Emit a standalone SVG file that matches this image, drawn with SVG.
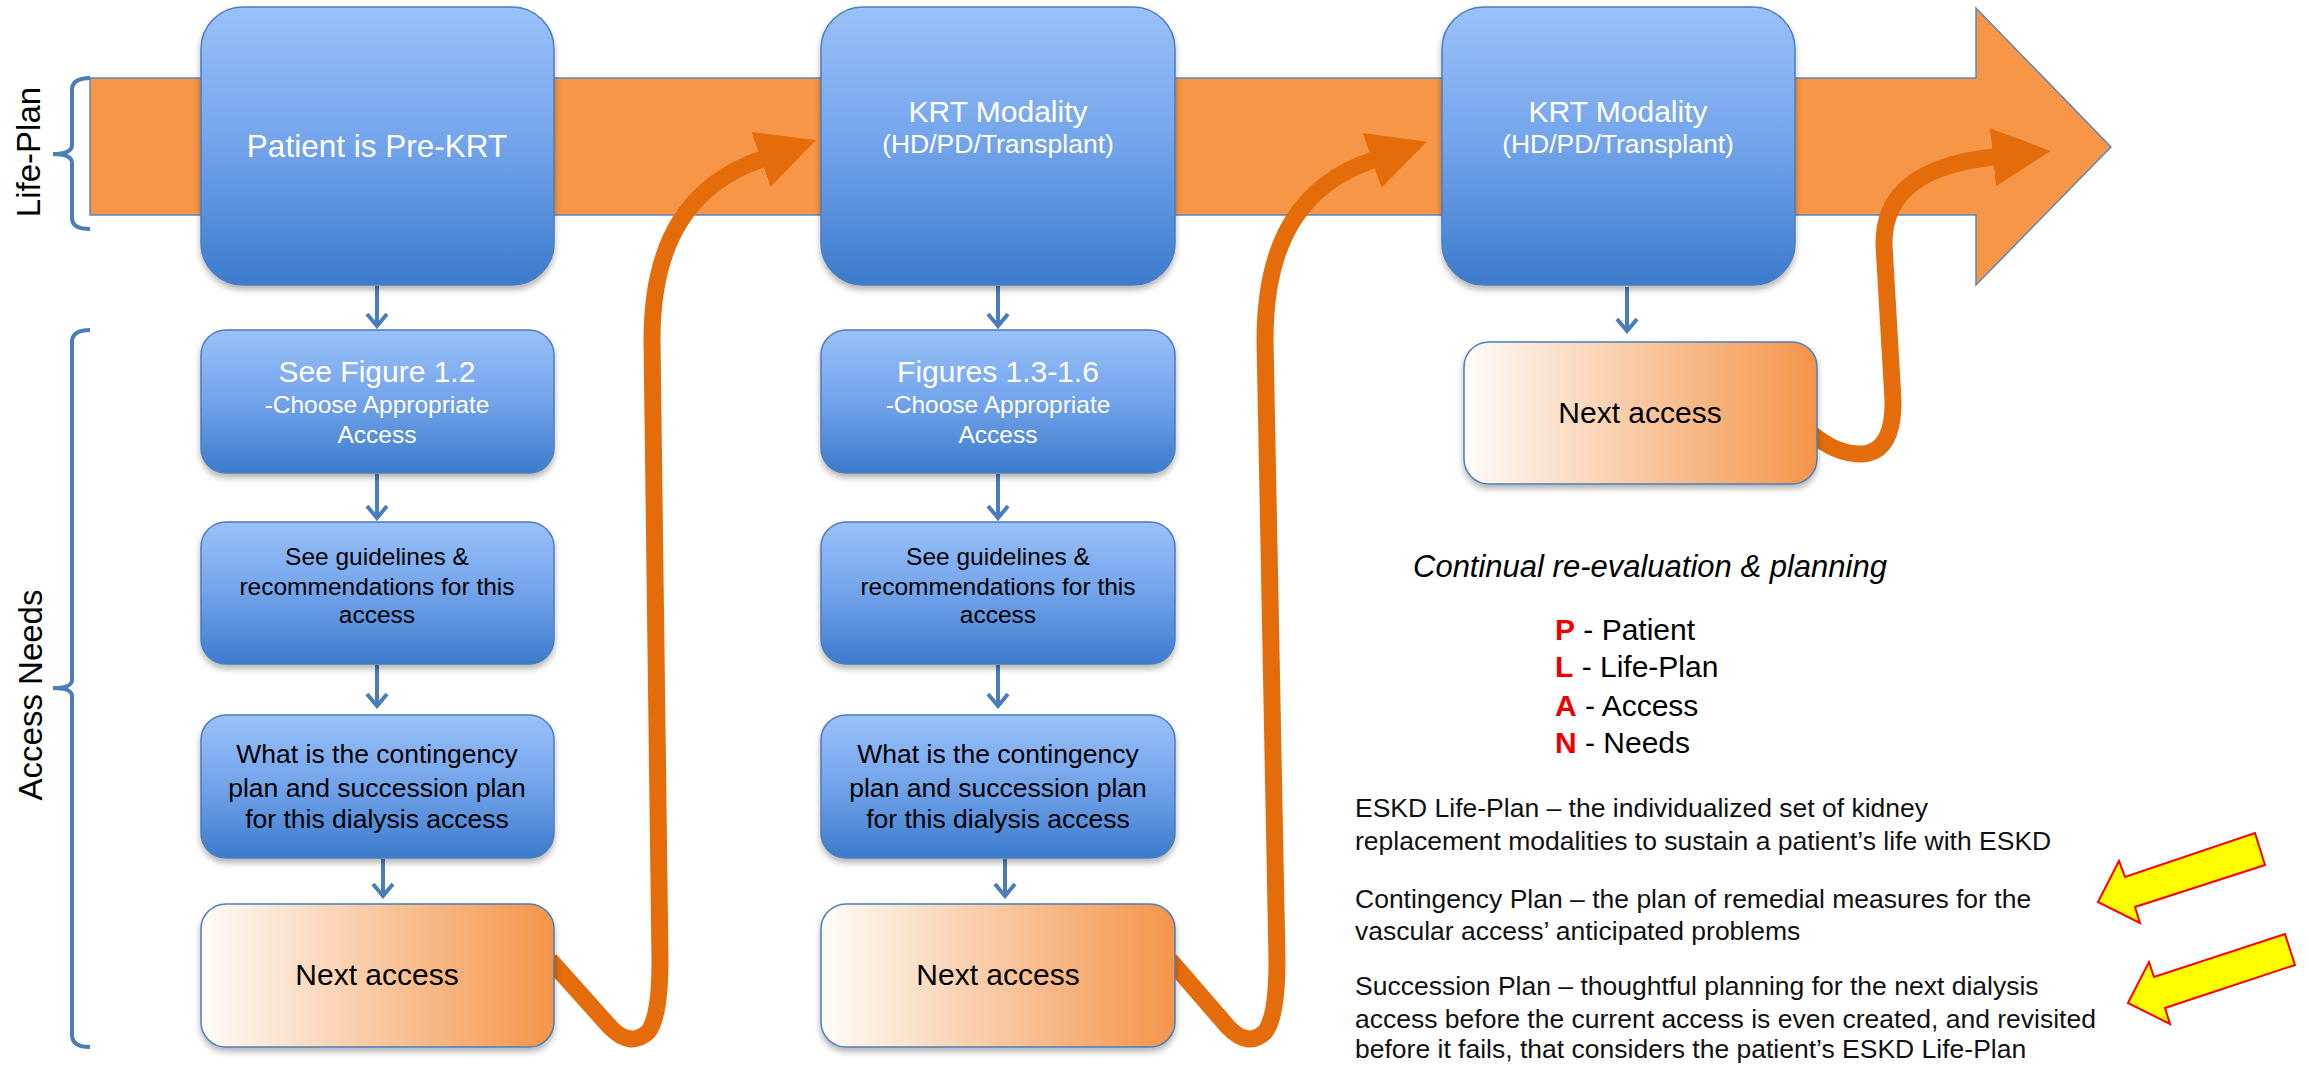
<svg xmlns="http://www.w3.org/2000/svg" width="2308" height="1065" viewBox="0 0 2308 1065">
  <defs>
    <style>
      text { font-family: "Liberation Sans", Arial, sans-serif; }
      .blue { fill: url(#blueFill); stroke: #4A7EBB; stroke-width: 1.5; filter: url(#shadow); }
      .peach { fill: url(#peachFill); stroke: #4A7EBB; stroke-width: 1.5; filter: url(#shadow); }
      .wt { fill: #ffffff; text-anchor: middle; }
      .bk { fill: #000000; text-anchor: middle; }
      .t30 { font-size: 30px; }
      .t31 { font-size: 31.5px; }
      .t245 { font-size: 24.5px; }
      .t265 { font-size: 26.5px; }
      .step { stroke: #4A7EBB; stroke-width: 4; fill: none; marker-end: url(#chev); }
      .loop { stroke: #E46C0A; stroke-width: 17; fill: none; stroke-linejoin: round; marker-end: url(#bigHead); }
      .brace { stroke: #4A7EBB; stroke-width: 4; fill: none; }
      .side { font-size: 33px; fill: #000; text-anchor: middle; }
      .def { font-size: 26.5px; fill: #111; }
      .plan { font-size: 30px; fill: #000; }
      .red { fill: #EE0000; font-weight: bold; }
      .hint { fill: #FFFF00; stroke: #FF0000; stroke-width: 2; stroke-linejoin: miter; }
    </style>
    <linearGradient id="blueFill" x1="0" y1="0" x2="0" y2="1">
      <stop offset="0" stop-color="#9AC1FA"/>
      <stop offset="0.5" stop-color="#72A3EA"/>
      <stop offset="1" stop-color="#3C7BCC"/>
    </linearGradient>
    <linearGradient id="peachFill" x1="0" y1="0" x2="1" y2="0">
      <stop offset="0" stop-color="#FEFCF8"/>
      <stop offset="1" stop-color="#F4944A"/>
    </linearGradient>
    <filter id="shadow" x="-10%" y="-10%" width="120%" height="125%">
      <feDropShadow dx="0" dy="4" stdDeviation="3" flood-color="#000" flood-opacity="0.3"/>
    </filter>
    <marker id="chev" markerUnits="userSpaceOnUse" viewBox="-3 -3 18 26" markerWidth="18" markerHeight="26" refX="12" refY="10" orient="auto">
      <path d="M0,0 L12,10 L0,20" fill="none" stroke="#4A7EBB" stroke-width="4"/>
    </marker>
    <marker id="bigHead" markerUnits="userSpaceOnUse" viewBox="0 0 58 58" markerWidth="58" markerHeight="58" refX="1" refY="29" orient="auto">
      <path d="M0,0 L58,29 L0,58 Z" fill="#E46C0A"/>
    </marker>
  </defs>

  <rect width="2308" height="1065" fill="#ffffff"/>

  <!-- life-plan band with arrowhead -->
  <path id="band" d="M90,78 L1976,78 L1976,8 L2111,147 L1976,285 L1976,215 L90,215 Z" fill="#F79646" stroke="#5F86B8" stroke-width="1.5"/>

  <!-- side braces and labels -->
  <g id="life-plan-label">
    <path class="brace" d="M90,78 Q72,78 72,90 L72,145 Q72,154 53,154 Q72,154 72,163 L72,218 Q72,229 90,229"/>
    <text class="side" transform="translate(40,152) rotate(-90)">Life-Plan</text>
  </g>
  <g id="access-needs-label">
    <path class="brace" d="M90,330 Q72,330 72,342 L72,680 Q72,688 53,688 Q72,688 72,696 L72,1035 Q72,1047 90,1047"/>
    <text class="side" transform="translate(42,695) rotate(-90)">Access Needs</text>
  </g>

  <!-- connectors -->
  <g id="connectors">
    <path class="step" d="M377,286 L377,326"/>
    <path class="step" d="M377,474 L377,518"/>
    <path class="step" d="M377,665 L377,706"/>
    <path class="step" d="M383,859 L383,896"/>
    <path class="step" d="M998,286 L998,326"/>
    <path class="step" d="M998,474 L998,518"/>
    <path class="step" d="M998,665 L998,706"/>
    <path class="step" d="M1005,859 L1005,896"/>
    <path class="step" d="M1627,287 L1627,331"/>
    <path class="loop" d="M550,960 L610,1027 Q630,1048 648,1032 Q660,1017 660,960 L652,340 C652,240 690,184 762,159"/>
    <path class="loop" d="M1170,960 L1228,1027 Q1248,1048 1265,1032 Q1277,1017 1277,960 L1265,340 C1265,240 1302,184 1373,160"/>
    <path class="loop" d="M1812,434 Q1838,455 1862,454 Q1894,452 1893,400 L1884,245 C1883,188 1928,164 1994,157"/>
  </g>

  <!-- column 1 -->
  <g id="pre-krt">
    <rect class="blue" x="201" y="7" width="353" height="278" rx="42"/>
    <text class="wt t31" x="377" y="157">Patient is Pre-KRT</text>
  </g>
  <g id="figure-1-2">
    <rect class="blue" x="201" y="330" width="353" height="143" rx="25"/>
    <text class="wt t30" x="377" y="382">See Figure 1.2</text>
    <text class="wt t245" x="377" y="413">-Choose Appropriate</text>
    <text class="wt t245" x="377" y="443">Access</text>
  </g>
  <g id="guidelines-1">
    <rect class="blue" x="201" y="522" width="353" height="142" rx="25"/>
    <text class="bk t245" x="377" y="565">See guidelines &amp;</text>
    <text class="bk t245" x="377" y="595">recommendations for this</text>
    <text class="bk t245" x="377" y="623">access</text>
  </g>
  <g id="contingency-1">
    <rect class="blue" x="201" y="715" width="353" height="143" rx="25"/>
    <text class="bk t265" x="377" y="763">What is the contingency</text>
    <text class="bk t265" x="377" y="797">plan and succession plan</text>
    <text class="bk t265" x="377" y="828">for this dialysis access</text>
  </g>
  <g id="next-access-1">
    <rect class="peach" x="201" y="904" width="353" height="143" rx="25"/>
    <text class="bk t30" x="377" y="985">Next access</text>
  </g>

  <!-- column 2 -->
  <g id="krt-modality-1">
    <rect class="blue" x="821" y="7" width="354" height="278" rx="42"/>
    <text class="wt t30" x="998" y="122">KRT Modality</text>
    <text class="wt" x="998" y="153" font-size="26.5">(HD/PD/Transplant)</text>
  </g>
  <g id="figures-1-3-1-6">
    <rect class="blue" x="821" y="330" width="354" height="143" rx="25"/>
    <text class="wt t30" x="998" y="382">Figures 1.3-1.6</text>
    <text class="wt t245" x="998" y="413">-Choose Appropriate</text>
    <text class="wt t245" x="998" y="443">Access</text>
  </g>
  <g id="guidelines-2">
    <rect class="blue" x="821" y="522" width="354" height="142" rx="25"/>
    <text class="bk t245" x="998" y="565">See guidelines &amp;</text>
    <text class="bk t245" x="998" y="595">recommendations for this</text>
    <text class="bk t245" x="998" y="623">access</text>
  </g>
  <g id="contingency-2">
    <rect class="blue" x="821" y="715" width="354" height="143" rx="25"/>
    <text class="bk t265" x="998" y="763">What is the contingency</text>
    <text class="bk t265" x="998" y="797">plan and succession plan</text>
    <text class="bk t265" x="998" y="828">for this dialysis access</text>
  </g>
  <g id="next-access-2">
    <rect class="peach" x="821" y="904" width="354" height="143" rx="25"/>
    <text class="bk t30" x="998" y="985">Next access</text>
  </g>

  <!-- column 3 -->
  <g id="krt-modality-2">
    <rect class="blue" x="1442" y="7" width="353" height="278" rx="42"/>
    <text class="wt t30" x="1618" y="122">KRT Modality</text>
    <text class="wt" x="1618" y="153" font-size="26.5">(HD/PD/Transplant)</text>
  </g>
  <g id="next-access-3">
    <rect class="peach" x="1464" y="342" width="353" height="142" rx="25"/>
    <text class="bk t30" x="1640" y="423">Next access</text>
  </g>

  <!-- legend -->
  <g id="legend">
    <text x="1413" y="577" font-size="31" font-style="italic" fill="#000">Continual re-evaluation &amp; planning</text>
    <text class="plan" x="1555" y="640"><tspan class="red">P</tspan> - Patient</text>
    <text class="plan" x="1555" y="677"><tspan class="red">L</tspan> - Life-Plan</text>
    <text class="plan" x="1555" y="716"><tspan class="red">A</tspan> - Access</text>
    <text class="plan" x="1555" y="753"><tspan class="red">N</tspan> - Needs</text>
  </g>

  <!-- definitions -->
  <g id="definitions">
    <text class="def" x="1355" y="817">ESKD Life-Plan – the individualized set of kidney</text>
    <text class="def" x="1355" y="850">replacement modalities to sustain a patient’s life with ESKD</text>
    <text class="def" x="1355" y="908">Contingency Plan – the plan of remedial measures for the</text>
    <text class="def" x="1355" y="940">vascular access’ anticipated problems</text>
    <text class="def" x="1355" y="995">Succession Plan – thoughtful planning for the next dialysis</text>
    <text class="def" x="1355" y="1028">access before the current access is even created, and revisited</text>
    <text class="def" x="1355" y="1058">before it fails, that considers the patient’s ESKD Life-Plan</text>
  </g>

  <!-- highlight arrows -->
  <g id="highlights">
    <polygon class="hint" points="2098,902 2119,861 2125,877 2255,833 2265,865 2135,907 2140,923"/>
    <polygon class="hint" points="2128,1003 2149,962 2154,977 2285,934 2295,965 2165,1008 2170,1024"/>
  </g>
</svg>
